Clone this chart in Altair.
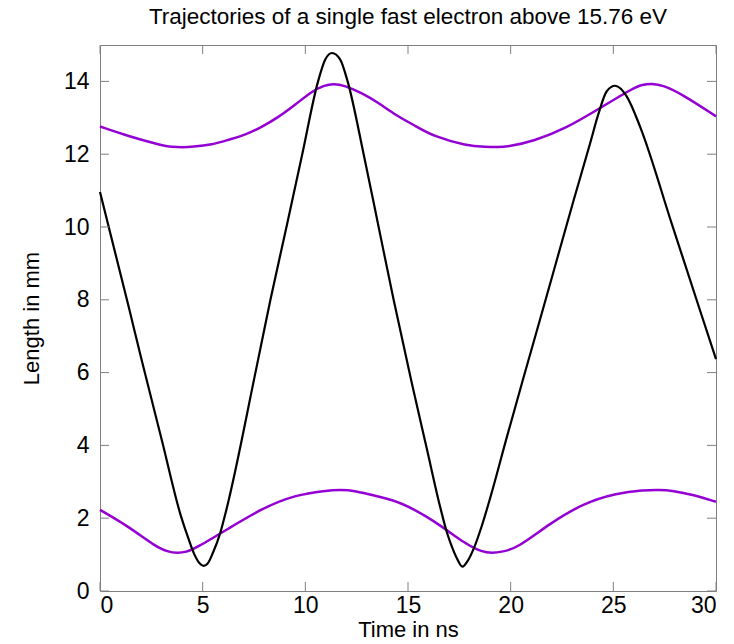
import altair as alt
import pandas as pd

# Black trajectory (electron)
e_t = [0, 1.4, 2.05, 3.03, 3.92, 4.3, 4.6, 4.85, 5.05, 5.25, 5.5, 5.86, 6.14, 7.57,
       8.3, 9.1, 9.85, 10.62, 10.97, 11.3, 11.7, 12.06, 12.84, 13.57, 14.3, 15.19,
       15.92, 16.57, 16.9, 17.15, 17.38, 17.65, 17.9, 18.19, 18.6, 19.0, 19.82, 20.62,
       21.44, 22.25, 23.06, 23.87, 24.27, 24.68, 25.09, 25.65, 26.3, 27.84, 29.14, 30]
e_v = [10.96, 7.8, 6.3, 4.1, 2.1, 1.45, 1.0, 0.76, 0.69, 0.76, 1.05, 1.6, 2.2, 6.0,
       8.0, 10.05, 12.0, 14.0, 14.6, 14.78, 14.6, 14.0, 12.0, 10.0, 8.0, 5.7,
       3.9, 2.3, 1.6, 1.2, 0.9, 0.67, 0.82, 1.15, 1.8, 2.55, 4.24, 5.85,
       7.48, 9.1, 10.72, 12.3, 13.1, 13.73, 13.88, 13.59, 12.76, 10.1, 7.85, 6.37]

# Upper purple boundary
u_t = [0, 1.40, 3.03, 3.5, 4.0, 4.5, 5.46, 6.27, 7.08, 7.89, 8.70, 9.51, 10.33, 10.9,
       11.38, 11.9, 12.76, 13.57, 14.38, 15.35, 16.24, 17.87, 18.8, 19.33, 19.9, 21.1,
       22.73, 24.36, 25.98, 26.4, 26.87, 27.4, 28.41, 30]
u_v = [12.76, 12.49, 12.24, 12.2, 12.19, 12.2, 12.26, 12.40, 12.53, 12.75, 13.02,
       13.36, 13.73, 13.89, 13.94, 13.89, 13.68, 13.41, 13.08, 12.78, 12.49, 12.23,
       12.2, 12.19, 12.21, 12.35, 12.72, 13.27, 13.82, 13.91, 13.94, 13.9, 13.63, 13.04]

# Lower purple boundary
l_t = [0, 1.40, 2.70, 3.3, 3.76, 4.2, 4.65, 6.27, 7.89, 9.51, 11.0, 11.7, 12.4, 13.57,
       14.62, 16.24, 17.87, 18.6, 19.08, 19.6, 20.3, 21.92, 23.54, 25.17, 26.5, 27.19,
       27.9, 28.9, 30]
l_v = [2.23, 1.77, 1.22, 1.08, 1.04, 1.07, 1.17, 1.72, 2.27, 2.64, 2.76, 2.78, 2.76,
       2.59, 2.45, 1.95, 1.26, 1.08, 1.04, 1.08, 1.17, 1.86, 2.41, 2.69, 2.77, 2.78,
       2.76, 2.64, 2.45]

x_ticks = [0, 5, 10, 15, 20, 25, 30]
y_ticks = [0, 2, 4, 6, 8, 10, 12, 14]

W, H = 616, 546
FONT = "Liberation Sans"

e_df = pd.DataFrame({"t": e_t, "v": e_v})
b_rows = []
for t, v in zip(u_t, u_v):
    b_rows.append({"t": t, "v": v, "s": "upper"})
for t, v in zip(l_t, l_v):
    b_rows.append({"t": t, "v": v, "s": "lower"})
b_df = pd.DataFrame(b_rows)

xs = alt.Scale(domain=[0, 30], nice=False, zero=False)
ys = alt.Scale(domain=[0, 15], nice=False, zero=False)

x_enc = alt.X("t:Q", scale=xs, title="Time in ns",
              axis=alt.Axis(values=x_ticks, ticks=False, domain=False, grid=False,
                            labelPadding=3, titlePadding=2))
y_enc = alt.Y("v:Q", scale=ys, title="Length in mm",
              axis=alt.Axis(values=y_ticks, ticks=False, domain=False, grid=False,
                            labelPadding=11, titlePadding=20))

bounds = alt.Chart(b_df).mark_line(strokeWidth=2.5, interpolate="basis",
                                   color="#9400D3").encode(
    x=x_enc, y=y_enc, detail="s:N")

electron = alt.Chart(e_df).mark_line(strokeWidth=2.2, interpolate="monotone",
                                     color="#000000").encode(x="t:Q", y="v:Q")

xt = pd.DataFrame({"t": x_ticks})
yt = pd.DataFrame({"v": y_ticks})
TL = 9
tick_col = "#808080"

bx = alt.Chart(xt).mark_rule(color=tick_col, strokeWidth=1).encode(
    x=alt.X("t:Q", scale=xs), y=alt.value(H), y2=alt.value(H - TL))
tx = alt.Chart(xt).mark_rule(color=tick_col, strokeWidth=1).encode(
    x=alt.X("t:Q", scale=xs), y=alt.value(0), y2=alt.value(TL))
ly = alt.Chart(yt).mark_rule(color=tick_col, strokeWidth=1).encode(
    y=alt.Y("v:Q", scale=ys), x=alt.value(0), x2=alt.value(TL))
ry = alt.Chart(yt).mark_rule(color=tick_col, strokeWidth=1).encode(
    y=alt.Y("v:Q", scale=ys), x=alt.value(W), x2=alt.value(W - TL))

chart = alt.layer(bounds, electron, bx, tx, ly, ry).properties(
    width=W, height=H,
    title=alt.Title("Trajectories of a single fast electron above 15.76 eV"),
    autosize=alt.AutoSizeParams(type="none"),
    padding={"left": 100, "top": 45, "right": 18, "bottom": 53},
).configure(
    background="white"
).configure_title(
    font=FONT, fontSize=22.5, fontWeight="normal", color="#000", offset=16,
    anchor="middle"
).configure_view(
    stroke="#808080", strokeWidth=1
).configure_axis(
    labelFont=FONT, titleFont=FONT, labelFontSize=23, titleFontSize=22,
    labelColor="#000", titleColor="#000", titleFontWeight="normal",
)

chart.save("out.html", embed_options={"renderer": "svg", "actions": False})
